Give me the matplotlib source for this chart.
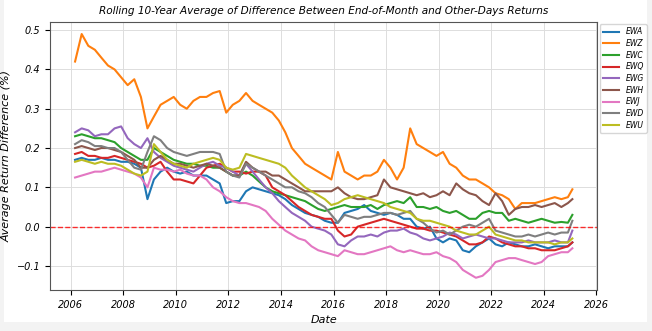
import pandas as pd
import matplotlib.pyplot as plt
from matplotlib.patches import Rectangle

# quarterly sample dates, Mar 2006 .. Dec 2024, plus the last point in Feb 2025
dates = list(pd.date_range("2006-03-01", "2024-12-01", freq="3MS")) + [pd.Timestamp("2025-02-01")]

tickers = ["EWA", "EWZ", "EWC", "EWQ", "EWG", "EWH", "EWJ", "EWD", "EWU"]

ewa = [.17, .175, .17, .17, .175, .17, .17, .165, .165, .16, .15, .07,
       .12, .14, .15, .14, .135, .14, .13, .13, .13, .12, .11, .06,
       .065, .065, .09, .10, .095, .09, .085, .08, .07, .055, .045, .035,
       .03, .025, .015, .01, .01, .035, .04, .045, .055, .04, .035, .03,
       .035, .03, .02, .02, .0, -.005, .0, -.03, -.04, -.03, -.035, -.06,
       -.065, -.05, -.04, -.03, -.045, -.05, -.04, -.045, -.05, -.05, -.045, -.05,
       -.055, -.05, -.05, -.05, -.04]
ewz = [.42, .49, .46, .45, .43, .41, .40, .38, .36, .375, .33, .25,
       .28, .31, .32, .33, .31, .30, .32, .33, .33, .34, .345, .29,
       .31, .32, .34, .32, .31, .30, .29, .27, .24, .20, .18, .16,
       .15, .14, .13, .12, .19, .14, .13, .12, .13, .13, .14, .17,
       .15, .12, .15, .25, .21, .20, .19, .18, .19, .16, .15, .13,
       .12, .12, .11, .10, .085, .08, .07, .045, .06, .06, .06, .065,
       .07, .075, .07, .075, .095]
ewc = [.23, .235, .23, .225, .225, .22, .215, .20, .19, .18, .17, .17,
       .20, .19, .18, .17, .165, .16, .16, .155, .155, .15, .15, .14,
       .13, .13, .14, .13, .115, .10, .09, .085, .08, .075, .07, .065,
       .055, .045, .04, .045, .05, .055, .05, .05, .05, .055, .045, .055,
       .06, .065, .06, .075, .05, .05, .045, .05, .04, .035, .04, .03,
       .02, .02, .035, .04, .035, .035, .015, .02, .015, .01, .015, .02,
       .015, .01, .012, .01, .03]
ewq = [.185, .19, .18, .18, .175, .175, .18, .175, .17, .165, .16, .15,
       .155, .165, .14, .12, .12, .115, .11, .13, .15, .155, .16, .15,
       .14, .14, .135, .14, .14, .13, .10, .09, .08, .065, .05, .04,
       .03, .025, .02, .02, -.01, -.025, -.02, .0, .005, .01, .015, .02,
       .015, .01, .005, .0, -.005, -.005, -.01, -.01, -.015, -.02, -.025, -.035,
       -.045, -.045, -.04, -.025, -.03, -.04, -.045, -.05, -.05, -.055, -.055, -.06,
       -.06, -.06, -.055, -.05, -.04]
ewg = [.24, .25, .245, .23, .235, .235, .25, .255, .225, .21, .20, .225,
       .19, .175, .165, .155, .15, .145, .14, .15, .16, .165, .155, .15,
       .14, .13, .16, .14, .12, .10, .085, .065, .05, .035, .025, .015,
       .0, -.005, -.01, -.02, -.045, -.05, -.035, -.025, -.025, -.02, -.025, -.015,
       -.01, -.01, -.005, -.015, -.02, -.03, -.035, -.03, -.025, -.015, -.02, -.03,
       -.025, -.02, -.025, -.03, -.03, -.035, -.04, -.04, -.04, -.035, -.04, -.04,
       -.04, -.035, -.04, -.04, -.01]
ewh = [.20, .205, .20, .195, .20, .20, .195, .19, .18, .17, .15, .15,
       .17, .18, .17, .16, .16, .155, .15, .155, .16, .155, .15, .14,
       .13, .13, .165, .15, .14, .14, .13, .13, .12, .11, .10, .09,
       .09, .09, .09, .09, .10, .085, .075, .07, .07, .075, .08, .12,
       .10, .095, .09, .085, .08, .085, .075, .08, .09, .08, .11, .095,
       .085, .08, .065, .055, .085, .065, .03, .045, .05, .05, .055, .05,
       .055, .06, .05, .06, .07]
ewj = [.125, .13, .135, .14, .14, .145, .15, .145, .14, .135, .125, .10,
       .15, .145, .145, .14, .145, .135, .13, .13, .12, .10, .09, .075,
       .065, .06, .06, .055, .05, .04, .02, .005, -.01, -.02, -.03, -.035,
       -.05, -.06, -.065, -.07, -.075, -.06, -.065, -.07, -.07, -.065, -.06, -.055,
       -.05, -.06, -.065, -.06, -.065, -.07, -.07, -.065, -.075, -.08, -.09, -.11,
       -.12, -.13, -.125, -.11, -.09, -.085, -.08, -.08, -.085, -.09, -.095, -.09,
       -.075, -.07, -.065, -.065, -.055]
ewd = [.21, .22, .215, .205, .205, .20, .20, .19, .17, .15, .145, .19,
       .23, .22, .20, .19, .185, .18, .185, .19, .19, .19, .185, .14,
       .13, .125, .16, .15, .14, .13, .12, .11, .10, .10, .09, .085,
       .075, .06, .05, .03, .01, .03, .025, .02, .025, .025, .03, .035,
       .035, .03, .035, .04, .02, .01, -.005, -.015, -.01, -.02, -.01, .0,
       .005, .0, .01, .02, -.01, -.015, -.02, -.025, -.025, -.02, -.025, -.02,
       -.015, -.02, -.015, -.015, .015]
ewu = [.165, .17, .165, .16, .165, .16, .16, .155, .145, .135, .13, .14,
       .21, .19, .17, .16, .155, .15, .16, .165, .17, .175, .17, .15,
       .145, .15, .185, .18, .175, .17, .165, .16, .15, .13, .115, .10,
       .09, .08, .07, .055, .06, .07, .075, .08, .075, .07, .065, .06,
       .05, .045, .04, .035, .02, .015, .015, .01, .005, .0, -.01, -.015,
       -.02, -.02, -.01, .0, -.02, -.025, -.03, -.035, -.035, -.04, -.04, -.04,
       -.04, -.045, -.04, -.04, -.03]

series = [ewa, ewz, ewc, ewq, ewg, ewh, ewj, ewd, ewu]

plt.rcParams['font.style'] = 'italic'

fig = plt.figure(figsize=(6.52, 3.31), dpi=100, facecolor='#f3f3f3')
# white card behind the chart, thin grey margin at the edges
fig.patches.append(Rectangle((0.006, 0.027), 0.987, 0.973, transform=fig.transFigure,
                             facecolor='white', edgecolor='none', zorder=-1))
ax = fig.add_axes([0.077, 0.124, 0.839, 0.81])

for name, vals in zip(tickers, series):
    ax.plot(dates, vals, label=name, linewidth=1.5)

ax.axhline(0, color='red', linestyle='--', linewidth=1, alpha=0.8)

ax.set_title('Rolling 10-Year Average of Difference Between End-of-Month and Other-Days Returns', fontsize=7.6)
ax.set_xlabel('Date', fontsize=8)
ax.set_ylabel('Average Return Difference (%)', fontsize=8)
ax.tick_params(labelsize=7)
ax.grid(True, color='#dddddd', linewidth=0.7)
for s in ax.spines.values():
    s.set_color('#555555')

ax.legend(loc='upper left', bbox_to_anchor=(1.0, 1.0), fontsize=5.5, frameon=True,
          handlelength=2.2, labelspacing=0.35, borderaxespad=0.3)

fig.savefig('out.png', dpi=100, facecolor=fig.get_facecolor())
